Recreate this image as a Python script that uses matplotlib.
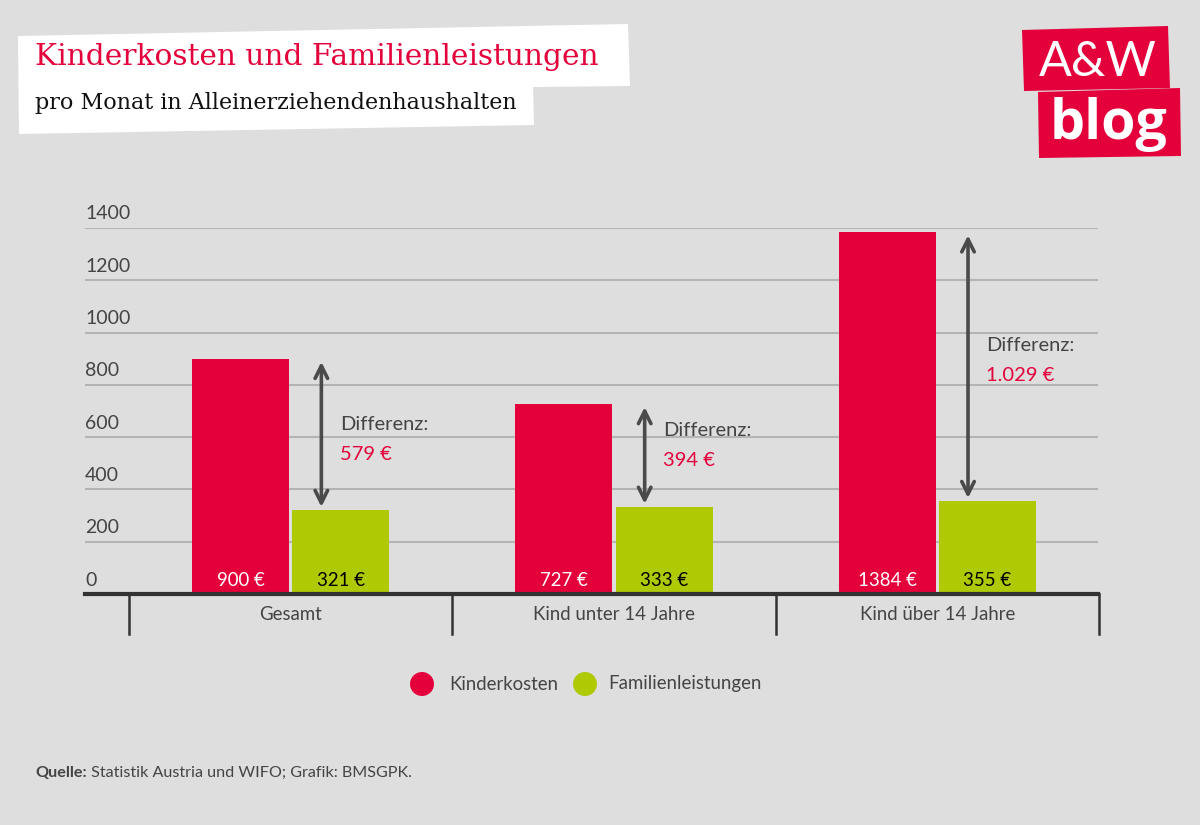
import matplotlib
matplotlib.use("Agg")
import matplotlib.pyplot as plt
from matplotlib.patches import Polygon, Ellipse
from matplotlib.transforms import blended_transform_factory, offset_copy

# ---- data ----
categories = ["Gesamt", "Kind unter 14 Jahre", "Kind über 14 Jahre"]
kinderkosten = [900, 727, 1384]
familienleistungen = [321, 333, 355]
series_names = ["Kinderkosten", "Familienleistungen"]
yticks = [0, 200, 400, 600, 800, 1000, 1200, 1400]
title = "Kinderkosten und Familienleistungen"
subtitle = "pro Monat in Alleinerziehendenhaushalten"
source_bold = "Quelle:"
source_rest = " Statistik Austria und WIFO; Grafik: BMSGPK."
# y positions (data units) of the "Differenz" annotation text
diff_label_y = [650, 627, 952]

# ---- styles ----
RED = "#E4003A"
GREEN = "#AFC905"
BG = "#DEDEDE"
GRID = "#B4B4B4"
DARK = "#444444"
SANS = ["Lato", "DejaVu Sans"]
SERIF = ["DejaVu Serif"]
FS = 13.4

plt.rcParams["font.family"] = SANS

fig = plt.figure(figsize=(12, 8.25), dpi=100, facecolor=BG)

# ---- header (title boxes) ----
def fx(px):
    return px / 1200.0

def fy(py):
    return 1 - py / 825.0

title_box = Polygon([(fx(18), fy(36)), (fx(628), fy(24)), (fx(630), fy(86)),
                     (fx(533), fy(87)), (fx(534), fy(125)), (fx(19), fy(134))],
                    closed=True, transform=fig.transFigure, facecolor="white",
                    edgecolor="none", zorder=0)
fig.patches.append(title_box)
fig.text(fx(35), fy(57), title, color=RED, fontsize=21.3, family=SERIF,
         va="center", ha="left")
fig.text(fx(35), fy(103), subtitle, color="#111111", fontsize=16.0, family=SERIF,
         va="center", ha="left")

# ---- logo ----
logo1 = Polygon([(fx(1022), fy(30)), (fx(1168), fy(26)), (fx(1170), fy(88)),
                 (fx(1024), fy(91))], closed=True, transform=fig.transFigure,
                facecolor=RED, edgecolor="none")
logo2 = Polygon([(fx(1038), fy(92)), (fx(1180), fy(88)), (fx(1181), fy(156)),
                 (fx(1039), fy(158))], closed=True, transform=fig.transFigure,
                facecolor=RED, edgecolor="none")
fig.patches.extend([logo1, logo2])
fig.text(fx(1098), fy(62), "A&W", color="white", fontsize=35, family=["Lato", "DejaVu Sans"],
         ha="center", va="center")
fig.text(fx(1109), fy(124), "blog", color="white", fontsize=40, fontweight="bold",
         family=["Open Sans", "DejaVu Sans"], ha="center", va="center")

# ---- axes ----
ax = fig.add_axes([fx(85), fy(594), fx(1098) - fx(85), fy(228) - fy(594)])
ax.set_facecolor(BG)
ax.set_xlim(-0.636, 2.497)
ax.set_ylim(0, 1400)
for s in ax.spines.values():
    s.set_visible(False)
ax.set_xticks([])
ax.set_yticks([])

for v in yticks[1:]:
    ax.axhline(v, color=GRID, lw=1.5, zorder=0)
ax.axhline(0, color="#333333", lw=3, zorder=3, clip_on=False)

# y tick labels above grid lines
tl = offset_copy(blended_transform_factory(ax.transAxes, ax.transData), fig=fig, x=0, y=14, units="dots")
for v in yticks:
    ax.text(0, v, str(v), transform=tl, ha="left", va="center", fontsize=14, color=DARK)

# category separators and labels
bt = blended_transform_factory(ax.transData, ax.transAxes)
n = len(categories)
for b in range(n + 1):
    ax.plot([b - 0.5, b - 0.5], [0, -0.108], transform=bt, color="#333333", lw=1.8, clip_on=False)
for i, c in enumerate(categories):
    ax.text(i, -0.055, c, transform=bt, ha="center", va="center", fontsize=FS, color=DARK)

# bars
w = 0.30
off = 0.155
xs = list(range(n))
ax.bar([x - off for x in xs], kinderkosten, width=w, color=RED, zorder=2)
ax.bar([x + off for x in xs], familienleistungen, width=w, color=GREEN, zorder=2)

# value labels
vl = offset_copy(ax.transData, fig=fig, x=0, y=14, units="dots")
for i in xs:
    ax.text(i - off, 0, f"{kinderkosten[i]} €", transform=vl, ha="center", va="center",
            fontsize=FS, color="white", zorder=4)
    ax.text(i + off, 0, f"{familienleistungen[i]} €", transform=vl, ha="center", va="center",
            fontsize=FS, color="black", zorder=4)

# difference arrows
def de_format(v):
    return f"{v:,}".replace(",", ".")

for i in xs:
    top = kinderkosten[i]
    bot = familienleistungen[i]
    ax_x = i + 0.095
    ax.annotate("", xy=(ax_x, bot + 12), xytext=(ax_x, top - 12),
                arrowprops=dict(arrowstyle="<->,head_length=0.9,head_width=0.45",
                                color="#4A4A4A", lw=2.6, shrinkA=0, shrinkB=0),
                zorder=3)
    ty = diff_label_y[i]
    ax.text(i + 0.152, ty, "Differenz:", ha="left", va="center", fontsize=14.5, color=DARK)
    ax.text(i + 0.152, ty - 116, f"{de_format(top - bot)} €", ha="left", va="center",
            fontsize=14.5, color=RED)

# legend
ax_leg_y = fy(684)
for cx, col, tx, name in [(422, RED, 449, series_names[0]), (585, GREEN, 608, series_names[1])]:
    fig.patches.append(Ellipse((fx(cx), ax_leg_y), width=24 / 1200.0, height=24 / 825.0,
                               transform=fig.transFigure, facecolor=col, edgecolor="none"))
    fig.text(fx(tx), ax_leg_y, name, ha="left", va="center", fontsize=FS, color=DARK)

# source
t = fig.text(fx(35), fy(773), source_bold, ha="left", va="center", fontsize=11.6,
             color=DARK, fontweight="bold")
fig.canvas.draw()
bb = t.get_window_extent()
fig.text(bb.x1 / 1200.0, fy(773), source_rest, ha="left", va="center", fontsize=11.6, color=DARK)

fig.savefig("out.png", dpi=100, facecolor=BG)
